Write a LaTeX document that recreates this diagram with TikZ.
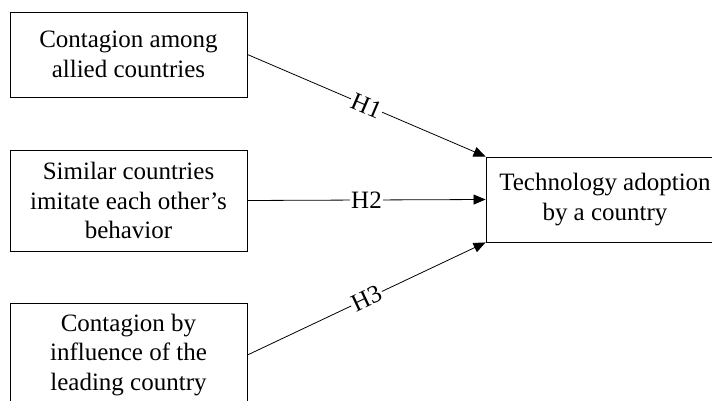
\documentclass[tikz,border=0pt]{standalone}
\usepackage{fontspec}
\setmainfont{LiberationSerif}[Extension=.ttf, UprightFont=*-Regular, BoldFont=*-Bold, ItalicFont=*-Italic]
\usetikzlibrary{arrows.meta}
\begin{document}
\begin{tikzpicture}[x=1pt,y=-1pt,
  box/.style={draw, line width=0.9pt, align=center, inner sep=0pt,
    font=\rmfamily\fontsize{25}{29.5}\selectfont},
  conn/.style={line width=0.8pt, -{Triangle[length=12pt,width=10pt]}},
  hlab/.style={fill=white, inner sep=1.5pt, font=\rmfamily\fontsize{25}{29.5}\selectfont}]
\useasboundingbox (0,0) rectangle (712,401);
\clip (0,0) rectangle (712,401);
\node[box, minimum width=237pt, minimum height=85pt] (a) at (128.5,54.5)
  {Contagion among\\allied countries};
\node[box, minimum width=237pt, minimum height=101pt] (b) at (128.5,200.5)
  {Similar countries\\imitate each other’s\\behavior};
\node[box, minimum width=237pt, minimum height=104pt] (c) at (128.5,355)
  {Contagion by\\influence of the\\leading country};
\node[box, minimum width=238pt, minimum height=85pt] (t) at (605,199.5)
  {Technology adoption\\by a country};
\draw[conn] (a.east) -- node[hlab, sloped] {H1} (t.north west);
\draw[conn] (b.east) -- node[hlab] {H2} (t.west);
\draw[conn] (c.east) -- node[hlab, sloped] {H3} (t.south west);
\end{tikzpicture}
\end{document}
